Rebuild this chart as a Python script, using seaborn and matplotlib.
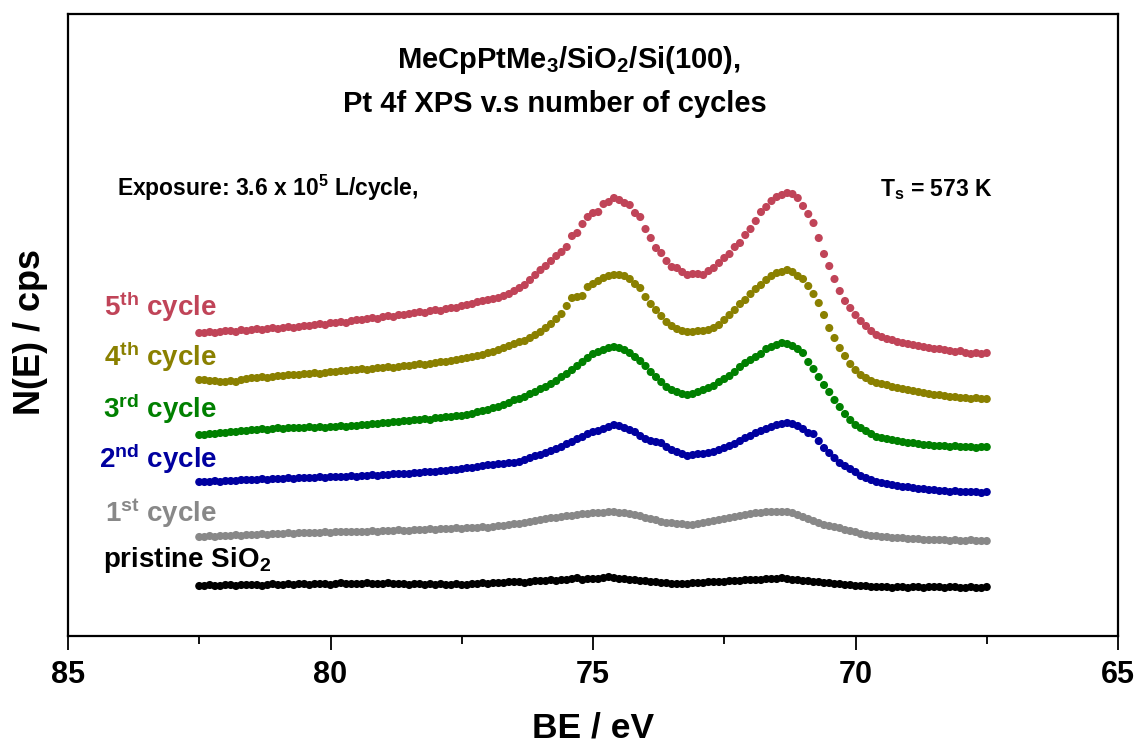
import numpy as np
import pandas as pd
import matplotlib
matplotlib.use("Agg")
import matplotlib.pyplot as plt
from matplotlib.ticker import MultipleLocator, NullLocator
import seaborn as sns

# Binding energy grid of the Pt 4f region (eV), 0.1 eV steps
energy = np.linspace(82.5, 67.5, 151)

# Stacked Pt 4f spectra (offset for display), one list per deposition stage
pristine = [54, 54, 55, 54, 54, 55, 55, 54, 55, 55,
            55, 55, 54, 55, 56, 55, 55, 56, 55, 56,
            56, 55, 56, 56, 56, 55, 56, 57, 56, 56,
            56, 56, 57, 56, 56, 56, 57, 56, 56, 56,
            55, 56, 56, 55, 56, 55, 56, 55, 55, 56,
            55, 55, 56, 56, 57, 56, 57, 57, 57, 58,
            58, 58, 57, 58, 59, 59, 59, 60, 59, 60,
            60, 61, 62, 60, 61, 61, 61, 62, 63, 62,
            61, 61, 60, 60, 59, 59, 58, 58, 57, 57,
            56, 56, 56, 56, 57, 57, 57, 58, 58, 58,
            58, 59, 59, 59, 60, 60, 60, 60, 61, 61,
            61, 62, 61, 60, 60, 59, 59, 58, 58, 57,
            57, 56, 56, 55, 55, 54, 54, 54, 53, 53,
            53, 53, 52, 53, 53, 52, 53, 53, 52, 53,
            53, 53, 52, 53, 53, 52, 52, 53, 52, 52,
            53]

cycle_1 = [103, 103, 104, 103, 104, 104, 104, 105, 104, 105,
           105, 105, 106, 105, 106, 106, 106, 107, 106, 107,
           107, 107, 107, 107, 108, 107, 108, 108, 108, 108,
           108, 108, 108, 109, 108, 109, 109, 109, 110, 109,
           109, 110, 110, 110, 111, 110, 111, 111, 111, 112,
           111, 112, 112, 112, 113, 112, 113, 114, 114, 115,
           116, 116, 117, 118, 119, 120, 121, 122, 122, 123,
           124, 124, 125, 126, 126, 127, 127, 127, 128, 128,
           127, 127, 126, 125, 124, 122, 121, 120, 118, 117,
           117, 116, 116, 115, 115, 116, 117, 118, 119, 120,
           121, 122, 123, 124, 125, 126, 127, 127, 128, 128,
           128, 128, 128, 127, 125, 123, 121, 119, 117, 115,
           114, 113, 112, 110, 109, 108, 106, 105, 104, 104,
           103, 103, 102, 102, 102, 101, 101, 101, 100, 100,
           100, 100, 100, 99, 100, 99, 99, 100, 99, 99,
           99]

cycle_2 = [158, 158, 158, 159, 158, 159, 159, 159, 160, 160,
           160, 160, 161, 160, 161, 161, 161, 162, 161, 162,
           162, 162, 162, 163, 162, 163, 163, 163, 163, 164,
           163, 164, 164, 165, 164, 165, 165, 166, 166, 166,
           166, 167, 167, 168, 168, 168, 169, 169, 170, 170,
           171, 172, 172, 173, 174, 175, 175, 176, 176, 177,
           177, 178, 180, 182, 184, 185, 187, 189, 191, 193,
           196, 198, 201, 203, 206, 208, 209, 211, 213, 215,
           214, 212, 210, 208, 204, 201, 199, 198, 197, 193,
           190, 188, 186, 184, 185, 186, 186, 187, 188, 190,
           192, 194, 196, 199, 202, 204, 207, 209, 211, 213,
           215, 216, 217, 216, 214, 211, 207, 206, 199, 192,
           187, 182, 177, 174, 171, 168, 164, 162, 160, 158,
           157, 156, 155, 154, 153, 153, 152, 151, 151, 150,
           150, 149, 149, 148, 149, 148, 148, 148, 148, 147,
           148]

cycle_3 = [205, 205, 206, 206, 207, 207, 208, 208, 209, 209,
           210, 210, 211, 210, 211, 212, 211, 212, 212, 212,
           212, 213, 212, 213, 212, 213, 213, 214, 213, 214,
           214, 215, 215, 216, 216, 217, 217, 218, 218, 219,
           219, 220, 220, 221, 220, 222, 222, 223, 223, 224,
           224, 225, 226, 228, 229, 230, 232, 233, 235, 237,
           240, 241, 243, 246, 248, 251, 253, 256, 259, 263,
           266, 270, 274, 278, 282, 286, 288, 290, 292, 293,
           292, 290, 287, 283, 279, 274, 268, 263, 258, 253,
           250, 248, 246, 245, 246, 248, 250, 252, 254, 258,
           261, 264, 268, 273, 277, 280, 283, 286, 291, 293,
           295, 297, 296, 294, 291, 287, 278, 271, 263, 255,
           248, 240, 233, 226, 220, 215, 212, 209, 206, 203,
           202, 201, 200, 199, 198, 197, 197, 196, 195, 195,
           194, 194, 194, 193, 194, 193, 193, 193, 192, 193,
           193]

cycle_4 = [260, 260, 259, 259, 258, 258, 259, 258, 260, 261,
           262, 262, 263, 262, 263, 264, 264, 265, 265, 265,
           266, 266, 267, 266, 267, 268, 268, 269, 269, 270,
           270, 271, 270, 271, 272, 272, 273, 272, 273, 274,
           274, 275, 276, 275, 276, 277, 278, 278, 279, 280,
           281, 282, 283, 284, 285, 287, 288, 290, 292, 294,
           296, 298, 299, 302, 305, 308, 312, 316, 321, 326,
           334, 342, 343, 344, 353, 356, 359, 362, 364, 365,
           365, 364, 361, 356, 352, 343, 336, 330, 324, 318,
           314, 311, 309, 308, 308, 309, 309, 310, 312, 315,
           320, 325, 330, 336, 340, 346, 351, 355, 360, 364,
           367, 368, 370, 368, 364, 361, 354, 346, 337, 325,
           312, 302, 292, 284, 276, 270, 265, 262, 259, 257,
           256, 255, 253, 252, 251, 250, 249, 248, 247, 246,
           245, 245, 244, 243, 243, 242, 242, 241, 242, 241,
           241]

cycle_5 = [307, 307, 308, 307, 308, 309, 309, 308, 310, 309,
           310, 311, 310, 311, 312, 311, 312, 313, 312, 313,
           314, 314, 315, 316, 315, 317, 317, 318, 317, 319,
           320, 320, 321, 322, 321, 323, 324, 323, 325, 325,
           326, 327, 328, 327, 329, 330, 329, 331, 332, 332,
           334, 335, 336, 338, 339, 340, 341, 342, 344, 346,
           349, 352, 355, 360, 365, 370, 374, 379, 384, 388,
           393, 404, 407, 416, 423, 427, 428, 436, 438, 442,
           440, 437, 435, 427, 423, 411, 402, 392, 387, 379,
           373, 372, 368, 365, 366, 366, 365, 369, 372, 377,
           382, 386, 393, 397, 405, 411, 419, 428, 433, 439,
           443, 445, 447, 446, 442, 434, 426, 417, 402, 386,
           374, 361, 349, 339, 332, 325, 319, 314, 309, 305,
           303, 301, 300, 298, 297, 296, 295, 294, 293, 292,
           291, 291, 290, 289, 288, 289, 287, 286, 287, 286,
           287]

series_keys = ["pristine", "cycle 1", "cycle 2", "cycle 3", "cycle 4", "cycle 5"]
series_values = [pristine, cycle_1, cycle_2, cycle_3, cycle_4, cycle_5]
series_labels = ["pristine SiO$_\\mathbf{2}$",
                 "1$^\\mathbf{st}$ cycle",
                 "2$^\\mathbf{nd}$ cycle",
                 "3$^\\mathbf{rd}$ cycle",
                 "4$^\\mathbf{th}$ cycle",
                 "5$^\\mathbf{th}$ cycle"]
series_colors = ["#000000", "#888888", "#0000A0", "#008000", "#8A8000", "#C04458"]

x_ticks = [85, 80, 75, 70, 65]

df = pd.concat(
    [pd.DataFrame({"BE": energy, "N": vals, "series": key})
     for key, vals in zip(series_keys, series_values)],
    ignore_index=True,
)

sns.set_style("ticks")
plt.rcParams["font.family"] = ["Liberation Sans", "DejaVu Sans"]
plt.rcParams["font.weight"] = "bold"
plt.rcParams["text.color"] = "black"
plt.rcParams["axes.labelcolor"] = "black"
plt.rcParams["xtick.color"] = "black"
plt.rcParams["ytick.color"] = "black"
plt.rcParams["axes.edgecolor"] = "black"
plt.rcParams["mathtext.fontset"] = "custom"
plt.rcParams["mathtext.rm"] = "Liberation Sans:bold"
plt.rcParams["mathtext.bf"] = "Liberation Sans:bold"
plt.rcParams["mathtext.it"] = "Liberation Sans:bold:italic"
plt.rcParams["mathtext.sf"] = "Liberation Sans:bold"

W, H = 1141, 746
fig = plt.figure(figsize=(W / 100, H / 100), dpi=100)
ax = fig.add_axes([68 / W, 1 - 636 / H, 1050 / W, 622 / H])


def fpos(px, py):
    """Pixel position -> figure fraction."""
    return px / W, 1 - py / H


sns.scatterplot(data=df, x="BE", y="N", hue="series", hue_order=series_keys,
                palette=series_colors, s=34, linewidth=0, legend=False, ax=ax)

ax.set_xlim(85, 65)
ax.set_ylim(4, 626)
ax.xaxis.set_major_locator(MultipleLocator(5))
ax.xaxis.set_minor_locator(MultipleLocator(2.5))
ax.set_xticks(x_ticks)
ax.set_xticklabels([str(t) for t in x_ticks])
ax.yaxis.set_major_locator(NullLocator())
ax.tick_params(axis="x", which="major", direction="out", length=10, width=1.3,
               labelsize=22, pad=7, top=False, colors="black", labelcolor="black")
ax.tick_params(axis="x", which="minor", direction="out", length=6, width=1.3, top=False)
for sp in ax.spines.values():
    sp.set_visible(True)
    sp.set_linewidth(1.6)
    sp.set_color("black")

ax.set_xlabel("BE / eV", fontsize=25.5, fontweight="bold", color="black")
ax.xaxis.set_label_coords(0.5, (636 - 711) / 622)
ax.set_ylabel("N(E) / cps", fontsize=26, fontweight="bold", color="black")
ax.yaxis.set_label_coords((48 - 68) / 1050, (636 - 332) / 622)

# Title block
fig.text(*fpos(569, 68), "MeCpPtMe$_\\mathbf{3}$/SiO$_\\mathbf{2}$/Si(100),",
         fontsize=21, fontweight="bold", ha="center", va="baseline", color="black")
fig.text(*fpos(555, 112), "Pt 4f XPS v.s number of cycles",
         fontsize=21, fontweight="bold", ha="center", va="baseline", color="black")

# Conditions
fig.text(*fpos(117, 196), "Exposure: 3.6 x 10$^\\mathbf{5}$ L/cycle,",
         fontsize=16.5, fontweight="bold", ha="left", va="baseline", color="black")
fig.text(*fpos(880, 196), "T$_\\mathbf{s}$ = 573 K",
         fontsize=16.5, fontweight="bold", ha="left", va="baseline", color="black")

# Series labels
label_pos = [(103, 567, "left"), (217, 522, "right"), (217, 468, "right"),
             (217, 418, "right"), (217, 366, "right"), (217, 316, "right")]
for (px, py, ha), text, col in zip(label_pos, series_labels, series_colors):
    fig.text(*fpos(px, py), text, fontsize=20, fontweight="bold",
             color=col, ha=ha, va="baseline")

fig.savefig("out.png", dpi=100)
